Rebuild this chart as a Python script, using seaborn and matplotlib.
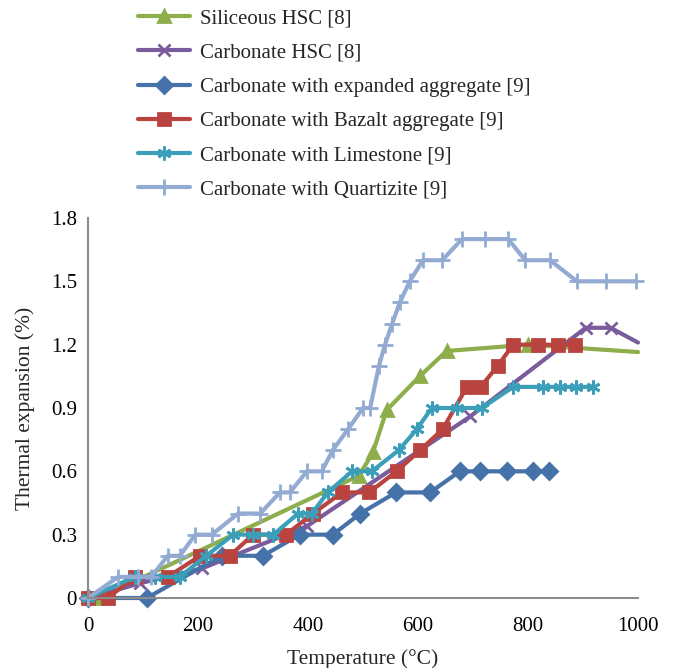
import matplotlib
matplotlib.use("Agg")
import matplotlib.pyplot as plt
import seaborn as sns

# Values (temperature in degC, expansion in %)
siliceous_t = [20, 493, 518, 543, 603, 652, 800, 1000]
siliceous_e = [0, 0.58, 0.69, 0.89, 1.05, 1.17, 1.20, 1.165]

carbonate_t = [0, 95, 207, 398, 695, 905, 950, 1000]
carbonate_e = [0, 0.07, 0.14, 0.34, 0.86, 1.28, 1.28, 1.21]

expanded_t = [0, 107, 243, 318, 385, 445, 495, 560, 622, 676, 713, 762, 809, 838]
expanded_e = [0, 0, 0.2, 0.2, 0.3, 0.3, 0.4, 0.5, 0.5, 0.6, 0.6, 0.6, 0.6, 0.6]

bazalt_t = [0, 36, 85, 145, 204, 258, 300, 360, 409, 462, 511, 561, 604, 645,
            689, 714, 745, 773, 818, 855, 885]
bazalt_e = [0, 0, 0.1, 0.1, 0.2, 0.2, 0.3, 0.3, 0.4, 0.5, 0.5, 0.6, 0.7, 0.8,
            1.0, 1.0, 1.1, 1.2, 1.2, 1.2, 1.2]

limestone_t = [0, 85, 122, 167, 215, 264, 300, 337, 382, 407, 436, 480, 516,
               565, 598, 625, 670, 716, 773, 827, 858, 887, 918]
limestone_e = [0, 0.1, 0.1, 0.1, 0.2, 0.3, 0.3, 0.3, 0.4, 0.4, 0.5, 0.6, 0.6,
               0.7, 0.8, 0.9, 0.9, 0.9, 1.0, 1.0, 1.0, 1.0, 1.0]

quartzite_t = [0, 55, 90, 115, 145, 167, 195, 225, 273, 313, 349, 367, 398, 425,
               445, 473, 500, 513, 529, 540, 553, 567, 585, 609, 644, 680, 722,
               764, 795, 840, 889, 942, 996]
quartzite_e = [0, 0.1, 0.1, 0.1, 0.2, 0.2, 0.3, 0.3, 0.4, 0.4, 0.5, 0.5, 0.6, 0.6,
               0.7, 0.8, 0.9, 0.9, 1.1, 1.2, 1.3, 1.4, 1.5, 1.6, 1.6, 1.7, 1.7,
               1.7, 1.6, 1.6, 1.5, 1.5, 1.5]

labels = ["Siliceous HSC [8]", "Carbonate HSC [8]",
          "Carbonate with expanded aggregate [9]",
          "Carbonate with Bazalt aggregate [9]",
          "Carbonate with Limestone [9]", "Carbonate with Quartizite [9]"]
colors = ["#8DAE4B", "#7A5C9C", "#4572A9", "#B8433F", "#3C9FB9", "#93ABD3"]
markers = ["^", "x", "D", "s", (6, 2, 0), "+"]
msizes = [9, 9, 8, 9, 10, 11]

series = [(siliceous_t, siliceous_e), (carbonate_t, carbonate_e),
          (expanded_t, expanded_e), (bazalt_t, bazalt_e),
          (limestone_t, limestone_e), (quartzite_t, quartzite_e)]

sns.set_style("white")
plt.rcParams["font.family"] = ["Liberation Serif", "DejaVu Serif"]

fig = plt.figure(figsize=(6.74, 6.68), dpi=100)
ax = fig.add_axes([88 / 674, 1 - 598 / 668, 550 / 674, 380 / 668])

for (t, e), lab, c, m, ms in zip(series, labels, colors, markers, msizes):
    # the two series that run off the right edge show no marker at 1000
    every = slice(0, len(t) - 1) if t[-1] == 1000 else None
    sns.lineplot(x=t, y=e, ax=ax, color=c, marker=m, markersize=ms,
                 markeredgecolor=c, markerfacecolor=c, markeredgewidth=2,
                 markevery=every, linewidth=3, label=lab, sort=False,
                 estimator=None, clip_on=False)

ax.set_xlim(0, 1000)
ax.set_ylim(0, 1.8)
ax.set_xticks([0, 200, 400, 600, 800, 1000])
ax.set_yticks([0, 0.3, 0.6, 0.9, 1.2, 1.5, 1.8])
ax.set_yticklabels(["0", "0.3", "0.6", "0.9", "1.2", "1.5", "1.8"])
ax.tick_params(length=0, labelsize=15, colors="black")
ax.tick_params(axis="x", pad=14)
ax.tick_params(axis="y", pad=8)
ax.set_xlabel("Temperature (\u00b0C)", fontsize=15.5, labelpad=9)
ax.set_ylabel("Thermal expansion (%)", fontsize=15.5, labelpad=11)

for side in ["top", "right"]:
    ax.spines[side].set_visible(False)
for side in ["left", "bottom"]:
    ax.spines[side].set_color("#8C8C8C")
    ax.spines[side].set_linewidth(1.5)

ax.legend(loc="upper left", bbox_to_anchor=(138 / 674, 1 - 9 / 668),
          bbox_transform=fig.transFigure, frameon=False, fontsize=15,
          handlelength=2.5, handletextpad=0.5, labelspacing=0.7,
          borderpad=0, borderaxespad=0)

fig.savefig("out.png", dpi=100)
